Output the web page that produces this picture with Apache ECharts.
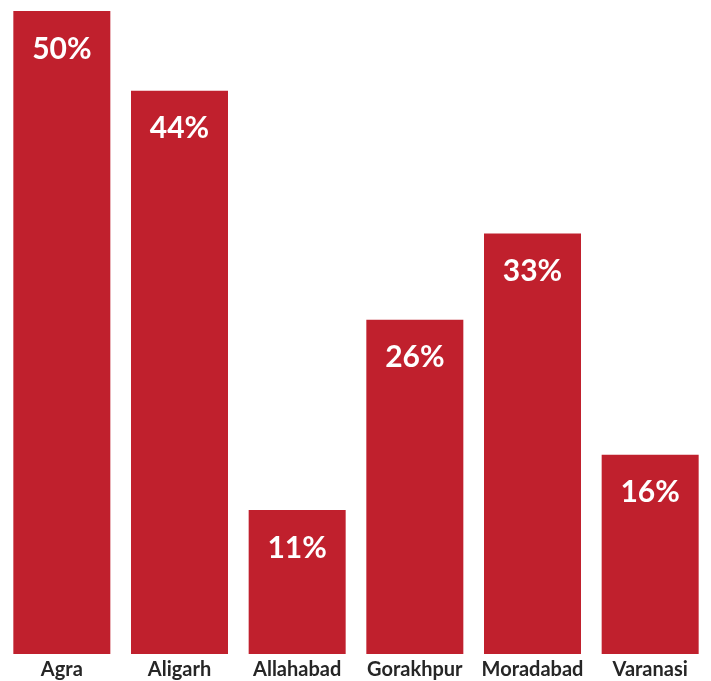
<!DOCTYPE html>
<html>
<head>
<meta charset="utf-8">
<script src="https://cdn.jsdelivr.net/npm/echarts@6/dist/echarts.min.js"></script>
<style>
  html, body { margin: 0; padding: 0; background: #fff; }
  #chart { width: 711px; height: 681px; }
</style>
</head>
<body>
<div id="chart"></div>
<script>
  // cities and their share
  const cities = ['Agra', 'Aligarh', 'Allahabad', 'Gorakhpur', 'Moradabad', 'Varanasi'];
  const shares = [50, 43.8, 11.2, 26.0, 32.7, 15.5];

  let myChart = echarts.init(document.getElementById('chart'));
  let option = {
    animation: false,
    grid: {
      left: 3,
      right: 2,
      top: 11,
      bottom: 27
    },
    xAxis: {
      type: 'category',
      data: cities,
      axisLine: { show: false },
      axisTick: { show: false },
      axisLabel: {
        color: '#262626',
        fontFamily: 'Lato',
        fontWeight: 'bold',
        fontSize: 20,
        margin: 6,
        interval: 0
      }
    },
    yAxis: {
      type: 'value',
      min: 0,
      max: 50,
      show: false
    },
    series: [{
      type: 'bar',
      data: shares,
      barWidth: 97,
      itemStyle: { color: '#C0202D' },
      label: {
        show: true,
        position: 'insideTop',
        distance: 23,
        color: '#fff',
        fontFamily: 'Lato',
        fontWeight: 'bold',
        fontSize: 30,
        formatter: (p) => Math.round(p.value) + '%'
      }
    }]
  };
  myChart.setOption(option);
</script>
</body>
</html>
